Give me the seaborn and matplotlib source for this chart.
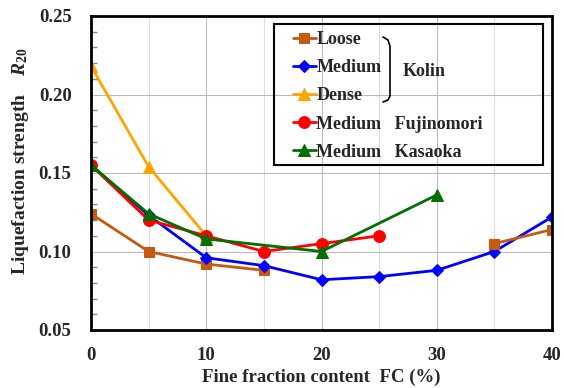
import numpy as np
import pandas as pd
import matplotlib
matplotlib.use("Agg")
import matplotlib.pyplot as plt
from matplotlib.ticker import MultipleLocator, FormatStrFormatter
from matplotlib.patches import Rectangle
from matplotlib.lines import Line2D
import seaborn as sns

# data
fc_loose_a = [0, 5, 10, 15]
r_loose_a = [0.124, 0.100, 0.092, 0.088]
fc_loose_b = [35, 40]
r_loose_b = [0.105, 0.114]
fc_medium = [0, 5, 10, 15, 20, 25, 30, 35, 40]
r_medium = [0.155, 0.123, 0.096, 0.091, 0.082, 0.084, 0.088, 0.100, 0.122]
fc_dense = [0, 5, 10]
r_dense = [0.218, 0.154, 0.110]
fc_fuji = [0, 5, 10, 15, 20, 25]
r_fuji = [0.155, 0.120, 0.110, 0.100, 0.105, 0.110]
fc_kasa = [0, 5, 10, 20, 30]
r_kasa = [0.155, 0.124, 0.108, 0.100, 0.136]

sns.set_theme(style="white")
plt.rcParams['font.family'] = ['Liberation Serif', 'DejaVu Serif']
plt.rcParams['font.weight'] = 'bold'
plt.rcParams['mathtext.fontset'] = 'custom'
plt.rcParams['mathtext.it'] = 'Liberation Serif:italic:bold'
plt.rcParams['mathtext.rm'] = 'Liberation Serif:bold'

fig = plt.figure(figsize=(5.64, 3.88), dpi=100)
ax = fig.add_axes([91/564, 1-330/388, 461/564, 314/388])

series = [
    ("Loose", fc_loose_a, r_loose_a, "#C55A11", "s", 7.5),
    ("Medium", fc_medium, r_medium, "#0000FF", "D", 6),
    ("Dense", fc_dense, r_dense, "#FFA500", "^", 8),
    ("Medium   Fujinomori", fc_fuji, r_fuji, "#FF0000", "o", 8.5),
    ("Medium   Kasaoka", fc_kasa, r_kasa, "#007000", "^", 8),
]
for name, x, y, c, m, ms in series:
    df = pd.DataFrame({"FC": x, "R20": y})
    sns.lineplot(data=df, x="FC", y="R20", color=c, marker=m, markersize=ms,
                 markeredgecolor=c, linewidth=2, label=name, ax=ax)
df = pd.DataFrame({"FC": fc_loose_b, "R20": r_loose_b})
sns.lineplot(data=df, x="FC", y="R20", color="#C55A11", marker="s", markersize=7.5,
             markeredgecolor="#C55A11", linewidth=2, ax=ax, legend=False)

ax.set_xlim(0, 40)
ax.set_ylim(0.05, 0.25)
ax.xaxis.set_major_locator(MultipleLocator(10))
ax.xaxis.set_minor_locator(MultipleLocator(5))
ax.yaxis.set_major_locator(MultipleLocator(0.05))
ax.yaxis.set_minor_locator(MultipleLocator(0.01))
ax.yaxis.set_major_formatter(FormatStrFormatter('%.2f'))
ax.grid(True, which='major', color='#BBBBBB', linewidth=0.8)
ax.grid(True, which='minor', axis='x', color='#DDDDDD', linewidth=0.8)
ax.tick_params(axis='y', which='both', direction='in', left=True, length=4, width=1, color='#888888')
ax.tick_params(axis='y', which='major', length=0)
ax.tick_params(axis='x', which='both', bottom=False)
ax.tick_params(axis='y', labelsize=13.5, pad=14)
ax.tick_params(axis='x', labelsize=13.5, pad=6)
for lab in ax.get_xticklabels() + ax.get_yticklabels():
    lab.set_fontweight('bold')
for s in ax.spines.values():
    s.set_color('black')
    s.set_linewidth(2)

ax.set_xlabel("Fine fraction content  FC (%)", fontsize=13.5, fontweight='bold', va='center')
ax.xaxis.set_label_coords(0.5, -0.150)
ax.set_ylabel("Liquefaction strength    $R_{20}$", fontsize=14, fontweight='bold', va='center')
ax.yaxis.set_label_coords(-0.154, 0.538)

# legend without frame, frame drawn separately
leg = ax.legend(loc='upper left', bbox_to_anchor=(293/564, 1-31/388),
                bbox_transform=fig.transFigure, borderaxespad=0, borderpad=0,
                frameon=False, handlelength=1.25, handletextpad=0.05, labelspacing=0.62,
                prop={'family': 'Liberation Serif', 'weight': 'bold', 'size': 13})
fig.add_artist(Rectangle((274/564, 1-165/388), 269/564, 141/388, transform=fig.transFigure,
                         fill=False, edgecolor='black', linewidth=1.5))

# bracket grouping Kolin
bx = np.array([383, 388, 390, 390, 388, 383]) / 564
by = 1 - np.array([37, 40, 46, 96, 100, 102]) / 388
fig.add_artist(Line2D(bx, by, color='black', linewidth=1.2))
fig.text(403/564, 1-71/388, "Kolin", fontsize=13, fontweight='bold', va='center', ha='left')

fig.savefig("out.png", dpi=100)
